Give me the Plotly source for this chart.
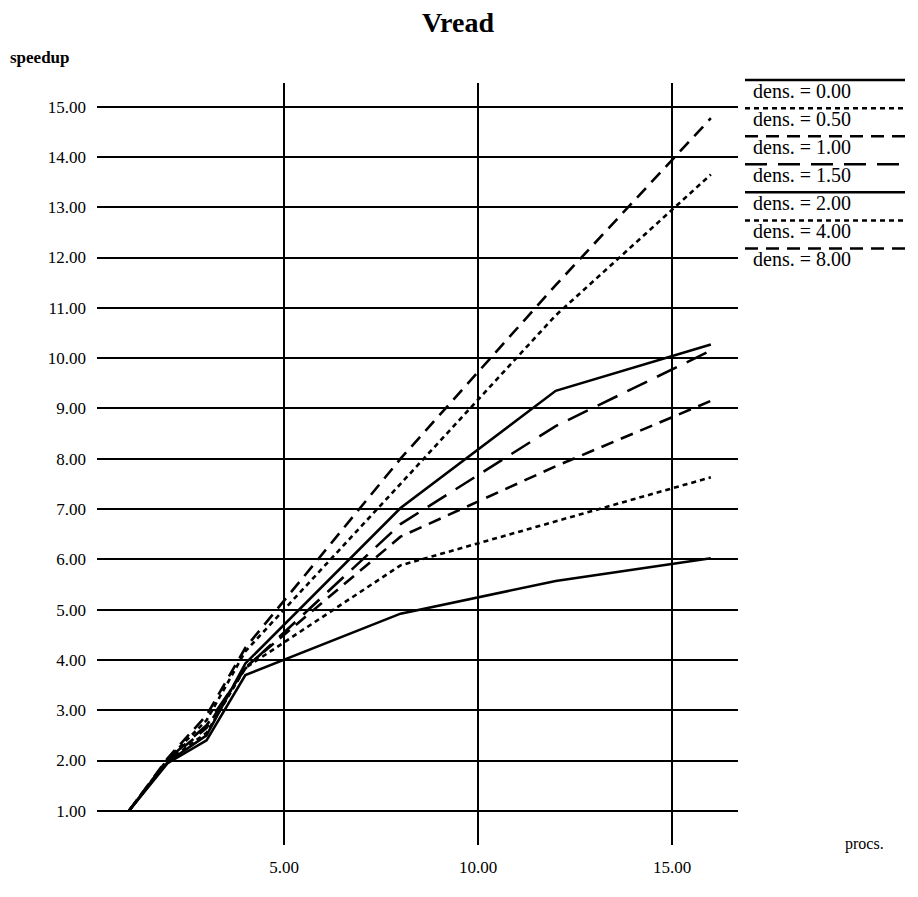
import plotly.graph_objects as go

# ---------------- data ----------------
procs = [1, 2, 3, 4, 8, 12, 16]
dens_labels = ["0.00", "0.50", "1.00", "1.50", "2.00", "4.00", "8.00"]
speedup_000 = [1.00, 1.95, 2.40, 3.70, 4.92, 5.57, 6.02]
speedup_050 = [1.00, 2.00, 2.55, 3.84, 5.88, 6.75, 7.63]
speedup_100 = [1.00, 2.00, 2.65, 3.85, 6.45, 7.85, 9.15]
speedup_150 = [1.00, 2.02, 2.70, 3.83, 6.70, 8.65, 10.15]
speedup_200 = [1.00, 1.97, 2.50, 3.93, 7.02, 9.35, 10.27]
speedup_400 = [1.00, 2.03, 2.80, 4.17, 7.50, 10.85, 13.65]
speedup_800 = [1.00, 2.05, 2.90, 4.24, 8.00, 11.45, 14.77]
y_ticks = list(range(1, 16))
x_ticks = [5, 10, 15]

series = [speedup_000, speedup_050, speedup_100, speedup_150,
          speedup_200, speedup_400, speedup_800]
dashes = ["solid", "5px,4px", "13px,8px", "22px,11px",
          "solid", "5px,4px", "13px,8px"]

# page body has an 8px margin, so the figure is drawn 8px in from the corner
OFF = 8
W, H = 918 - 2 * OFF, 897 - 2 * OFF
# plot area in page pixels: x 97..738, y 83..862
PX0, PX1, PY0, PY1 = 97, 738, 83, 862
L, R = PX0 - OFF, W - (PX1 - OFF)
T, B = PY0 - OFF, H - (PY1 - OFF)
PW, PH = PX1 - PX0, PY1 - PY0

def px_x(px):
    return (px - PX0) / PW

def px_y(py):
    return (PY1 - py) / PH

FONT = "Liberation Serif"

fig = go.Figure()
for lab, ys, d in zip(dens_labels, series, dashes):
    fig.add_trace(go.Scatter(
        x=procs, y=ys, mode="lines", name="dens. = " + lab,
        line=dict(color="black", width=2.6, dash=d),
        showlegend=False,
    ))

# legend drawn as line-over-text entries (as in the original)
for i, (lab, d) in enumerate(zip(dens_labels, dashes)):
    ly = 80 + i * 28.7
    fig.add_shape(type="line", xref="paper", yref="paper",
                  x0=px_x(745), x1=px_x(905), y0=px_y(ly), y1=px_y(ly),
                  line=dict(color="black", width=2.5, dash=d))
    fig.add_annotation(xref="paper", yref="paper", x=px_x(751), y=px_y(ly + 11),
                       text="dens. = " + lab, showarrow=False,
                       xanchor="left", yanchor="middle",
                       font=dict(family=FONT, size=20, color="black"))

fig.add_annotation(xref="paper", yref="paper", x=px_x(8), y=px_y(57),
                   text="<b>speedup</b>", showarrow=False, xanchor="left",
                   yanchor="middle", font=dict(family=FONT, size=17, color="black"))
fig.add_annotation(xref="paper", yref="paper", x=px_x(864), y=px_y(861),
                   text="procs.", showarrow=False, xanchor="center",
                   yanchor="middle", font=dict(family=FONT, size=16, color="black"))

fig.update_layout(
    width=W, height=H,
    margin=dict(l=L, r=R, t=T, b=B),
    paper_bgcolor="white", plot_bgcolor="white",
    title=dict(text="<b>Vread</b>", x=(458 - OFF) / W, xref="container",
               xanchor="center", y=1 - (22 - OFF) / H, yref="container",
               yanchor="middle",
               font=dict(family=FONT, size=28, color="black")),
    font=dict(family=FONT, size=17, color="black"),
    showlegend=False,
)
fig.update_xaxes(range=[0.175, 16.70], tickvals=x_ticks, tickformat=".2f",
                 showgrid=True, gridcolor="black", gridwidth=1.8,
                 zeroline=False, showline=False, ticks="",
                 ticklabelstandoff=10, tickfont=dict(family=FONT, size=17))
fig.update_yaxes(range=[0.32, 15.47], tickvals=y_ticks, tickformat=".2f",
                 showgrid=True, gridcolor="black", gridwidth=1.8,
                 zeroline=False, showline=False, ticks="",
                 ticklabelstandoff=10, tickfont=dict(family=FONT, size=17))

fig.write_html("out.html")
